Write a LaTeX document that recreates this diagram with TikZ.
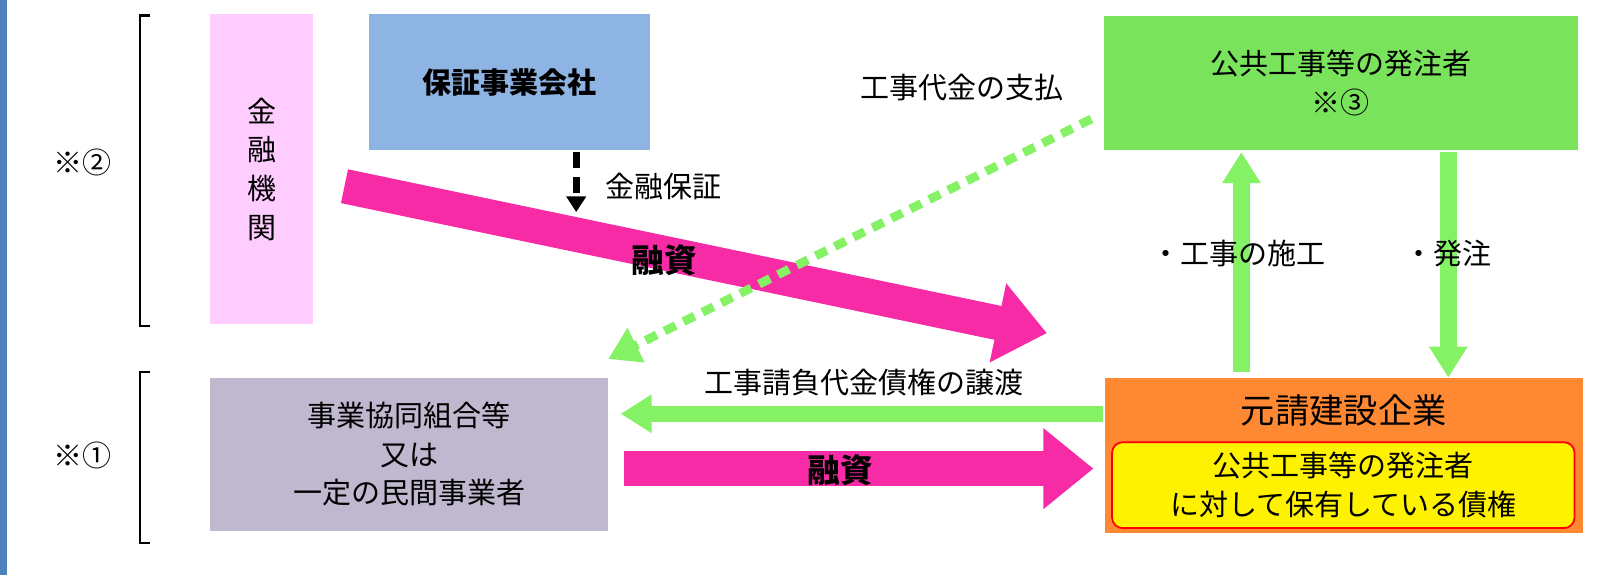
\documentclass[tikz,border=0pt]{standalone}
\usepackage{fontspec}
\setmainfont{Noto Sans CJK JP}
\usetikzlibrary{arrows.meta}
\def\u{0.02068cm}
\begin{document}
\begin{tikzpicture}[x=\u,y=-\u,
  box/.style={draw=none,inner sep=0,align=center,font=\fontsize{16.5}{22}\selectfont},
  lbl/.style={inner sep=0,font=\fontsize{16.5}{20}\selectfont},
  pinkarrow/.style={line width=0.69cm,draw={rgb,255:red,247;green,43;blue,166},-{Triangle[length=1.0cm,width=1.55cm]}},
  greenarrow/.style={line width=0.33cm,draw={rgb,255:red,133;green,242;blue,102},-{Triangle[length=0.62cm,width=0.73cm]}},
  brk/.style={line width=1.2pt}]
\useasboundingbox (0,0) rectangle (1566,556);
\fill[fill={rgb,255:red,79;green,129;blue,189}] (0,0) rectangle (7,556);
% brackets
\draw[brk] (145,15) -- (135,15) -- (135,315) -- (145,315);
\draw[brk] (145,360) -- (135,360) -- (135,525) -- (145,525);
\node[lbl] (n2) at (80,157) {※②};
\node[lbl] (n1) at (80,440) {※①};
% boxes
\node[box,fill={rgb,255:red,255;green,204;blue,255},minimum width=100*\u,minimum height=299*\u] (bank) at (253,163.5) {金\\融\\機\\関};
\node[box,fill={rgb,255:red,142;green,180;blue,227},minimum width=271*\u,minimum height=131*\u,font=\fontsize{16.5}{20}\selectfont\bfseries] (guar) at (492.5,79.5) {保証事業会社};
\node[box,fill={rgb,255:red,122;green,227;blue,92},minimum width=458*\u,minimum height=130*\u] (owner) at (1296,80) {公共工事等の発注者\\※③};
\node[box,fill={rgb,255:red,191;green,184;blue,207},minimum width=385*\u,minimum height=148*\u] (coop) at (395.5,439) {事業協同組合等\\又は\\一定の民間事業者};
\node[box,fill={rgb,255:red,255;green,136;blue,51},minimum width=462*\u,minimum height=150*\u] (gen) at (1299,440) {};
\node[lbl,font=\fontsize{19.5}{22}\selectfont] (genl) at (1299,397) {元請建設企業};
\node[box,fill=yellow,draw=red,line width=1pt,rounded corners=6pt,minimum width=447*\u,minimum height=83*\u] (claim) at (1298.5,469) {公共工事等の発注者\\に対して保有している債権};
% coordinates
\coordinate (gs) at (557,147);
\coordinate (ge) at (557,205);
\coordinate (ps) at (333,180);
\coordinate (pe) at (1012,322);
\coordinate (ds) at (1055,115);
\coordinate (de) at (588,347);
\coordinate (us) at (1200,360);
\coordinate (ue) at (1200,147);
\coordinate (os) at (1400,147);
\coordinate (oe) at (1400,365);
\coordinate (ls) at (1066,400);
\coordinate (le) at (600,400);
\coordinate (rs) at (603,453);
\coordinate (re) at (1057,453);
% arrows
\draw[line width=4pt,dash pattern=on 9pt off 5pt,-{Triangle[length=9pt,width=11pt]}] (gs) -- (ge);
\node[lbl,anchor=west] (gl) at (585,180) {金融保証};
\draw[pinkarrow] (ps) -- (pe);
\node[lbl,font=\fontsize{18.5}{20}\selectfont\bfseries] (pl) at (642,252) {融資};
\draw[line width=5pt,dash pattern=on 7pt off 5pt,draw={rgb,255:red,133;green,242;blue,102},-{Triangle[length=0.62cm,width=0.73cm]}] (ds) -- (de);
\node[lbl] (dl) at (930,85) {工事代金の支払};
\draw[greenarrow] (us) -- (ue);
\draw[greenarrow] (os) -- (oe);
\node[lbl] (ul) at (1197,245) {・工事の施工};
\node[lbl] (ol) at (1400,245) {・発注};
\draw[greenarrow] (ls) -- (le);
\node[lbl] (ll) at (835,370) {工事請負代金債権の譲渡};
\draw[pinkarrow] (rs) -- (re);
\node[lbl,font=\fontsize{18.5}{20}\selectfont\bfseries] (rl) at (812,455) {融資};
\end{tikzpicture}
\end{document}
